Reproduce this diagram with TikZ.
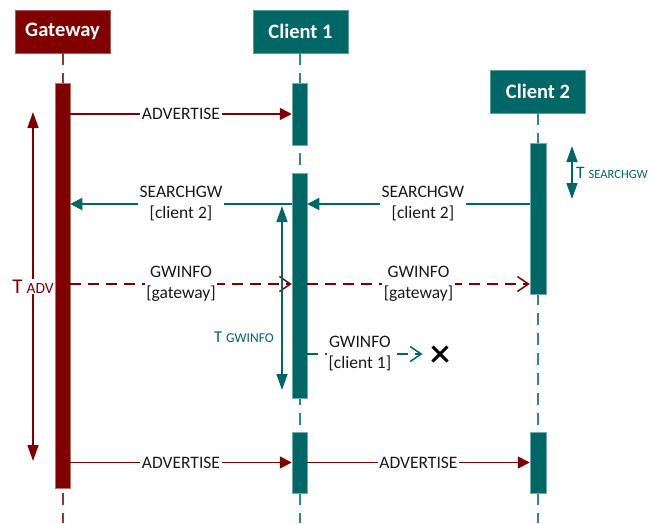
\documentclass[tikz,border=0pt]{standalone}
\usepackage{fontspec}
\setmainfont{Carlito}
\usetikzlibrary{arrows.meta,shapes.misc}
\definecolor{gwred}{RGB}{128,0,0}
\definecolor{clteal}{RGB}{0,102,102}
\definecolor{inktext}{RGB}{26,26,26}
% "T" with a smaller subscript-like word
\newcommand\tlab[3]{{\fontsize{#1}{#1}\selectfont T}\hspace{4pt}{\fontsize{#2}{#2}\selectfont #3}}

\begin{document}
\begin{tikzpicture}[x=1pt,y=-1pt,
  header/.style={minimum width=95pt,minimum height=43pt,inner sep=0pt,text=white,
    font=\fontsize{20.5}{23}\selectfont\bfseries},
  gwhead/.style={header,fill=gwred,draw=gwred!65!white,line width=0.6pt},
  clhead/.style={header,fill=clteal,draw=clteal!65!white,line width=0.6pt},
  actbar/.style={minimum width=15pt,inner sep=0pt,line width=0.5pt},
  gwbar/.style={actbar,fill=gwred,draw=gwred!55!white},
  clbar/.style={actbar,fill=clteal,draw=clteal!55!white},
  lifeline/.style={line width=1.5pt,dash pattern=on 12pt off 8pt},
  redmsg/.style={draw=gwred,line width=1.8pt,-{Triangle[length=12pt,width=12pt]}},
  tealmsg/.style={draw=clteal,line width=1.8pt,-{Triangle[length=12pt,width=12pt]}},
  reddash/.style={draw=gwred,line width=1.5pt,dash pattern=on 11pt off 7pt,
    -{Straight Barb[length=11pt,width=15pt,line width=1.5pt]}},
  tealdash/.style={draw=clteal,line width=1.5pt,dash pattern=on 11pt off 7pt,
    -{Straight Barb[length=11pt,width=15pt,line width=1.5pt]}},
  msglabel/.style={fill=white,inner sep=1.5pt,text=inktext,align=center,
    font=\fontsize{17.5}{21}\selectfont},
  span/.style={line width=1.5pt,{Triangle[length=16pt,width=11pt]}-{Triangle[length=16pt,width=11pt]}},
]
\useasboundingbox (0,0) rectangle (651,523);

% participants
\node[gwhead] (gw) at (62.5,31.5) {Gateway};
\node[clhead] (c1) at (300.5,31.5) {Client 1};
\node[clhead] (c2) at (538,91.5) {Client 2};

% lifelines
\coordinate (gwend) at (63,523);
\coordinate (c1end) at (300,523);
\coordinate (c2end) at (538,523);
\draw[lifeline,draw=gwred!80!white] (gw.south -| gwend) -- (gwend);
\draw[lifeline,draw=clteal!80!white] (c1.south -| c1end) -- (c1end);
\draw[lifeline,draw=clteal!80!white] (c2.south -| c2end) -- (c2end);

% activation bars
\node[gwbar,minimum height=405pt] (gwbar) at (62.5,285.5) {};
\node[clbar,minimum height=62pt] (c1barA) at (299.5,114) {};
\node[clbar,minimum height=225pt] (c1barB) at (299.5,285.5) {};
\node[clbar,minimum height=61pt] (c1barC) at (299.5,462.5) {};
\node[clbar,minimum width=16pt,minimum height=151pt] (c2barA) at (538,218.5) {};
\node[clbar,minimum width=16pt,minimum height=61pt] (c2barC) at (538,462.5) {};

% message rows
\coordinate (ysg) at (0,204);
\coordinate (ygi) at (0,284);

% ADVERTISE
\draw[redmsg] (gwbar.east |- c1barA.west) -- node[msglabel]{ADVERTISE} (c1barA.west);

% SEARCHGW
\draw[tealmsg] (c2barA.west |- ysg) -- node[msglabel,pos=0.48]{SEARCHGW\\{[client 2]}} (c1barB.east |- ysg);
\draw[tealmsg] (c1barB.west |- ysg) -- node[msglabel]{SEARCHGW\\{[client 2]}} (gwbar.east |- ysg);

% GWINFO from the gateway
\draw[reddash] (gwbar.east |- ygi) -- node[msglabel]{GWINFO\\{[gateway]}} (c1barB.west |- ygi);
\draw[reddash] (c1barB.east |- ygi) -- node[msglabel]{GWINFO\\{[gateway]}} (c2barA.west |- ygi);

% GWINFO from client 1, lost
\node[cross out,draw=black,line width=3pt,minimum size=12pt,inner sep=0pt] (xmark) at (440,354) {};
\draw[tealdash,shorten >=10pt] (c1barB.east |- xmark) -- node[msglabel,pos=0.42]{GWINFO\\{[client 1]}} (xmark.west);

% ADVERTISE, second round
\draw[redmsg] (gwbar.east |- c1barC.west) -- node[msglabel]{ADVERTISE} (c1barC.west);
\draw[redmsg] (c1barC.east) -- node[msglabel]{ADVERTISE} (c2barC.west);

% timers
\coordinate (tadvtop) at (33,112);
\coordinate (tadvbot) at (33,461);
\draw[span,draw=gwred,fill=gwred] (tadvtop) -- node[fill=white,inner sep=1pt,text=gwred]{\tlab{21}{15.5}{ADV}} (tadvbot);

\coordinate (tgitop) at (282,206);
\coordinate (tgibot) at (282,390);
\draw[span,draw=clteal,fill=clteal] (tgitop) -- (tgibot);
\node[text=clteal] (tgilabel) at (244,337) {\tlab{16.5}{13.5}{GWINFO}};

\coordinate (tsgtop) at (572,146);
\coordinate (tsgbot) at (572,199);
\draw[span,draw=clteal,fill=clteal] (tsgtop) -- (tsgbot);
\node[text=clteal,anchor=west,inner sep=0pt] (tsglabel) at (576,173) {\tlab{17.5}{12.5}{SEARCHGW}};
\end{tikzpicture}
\end{document}
